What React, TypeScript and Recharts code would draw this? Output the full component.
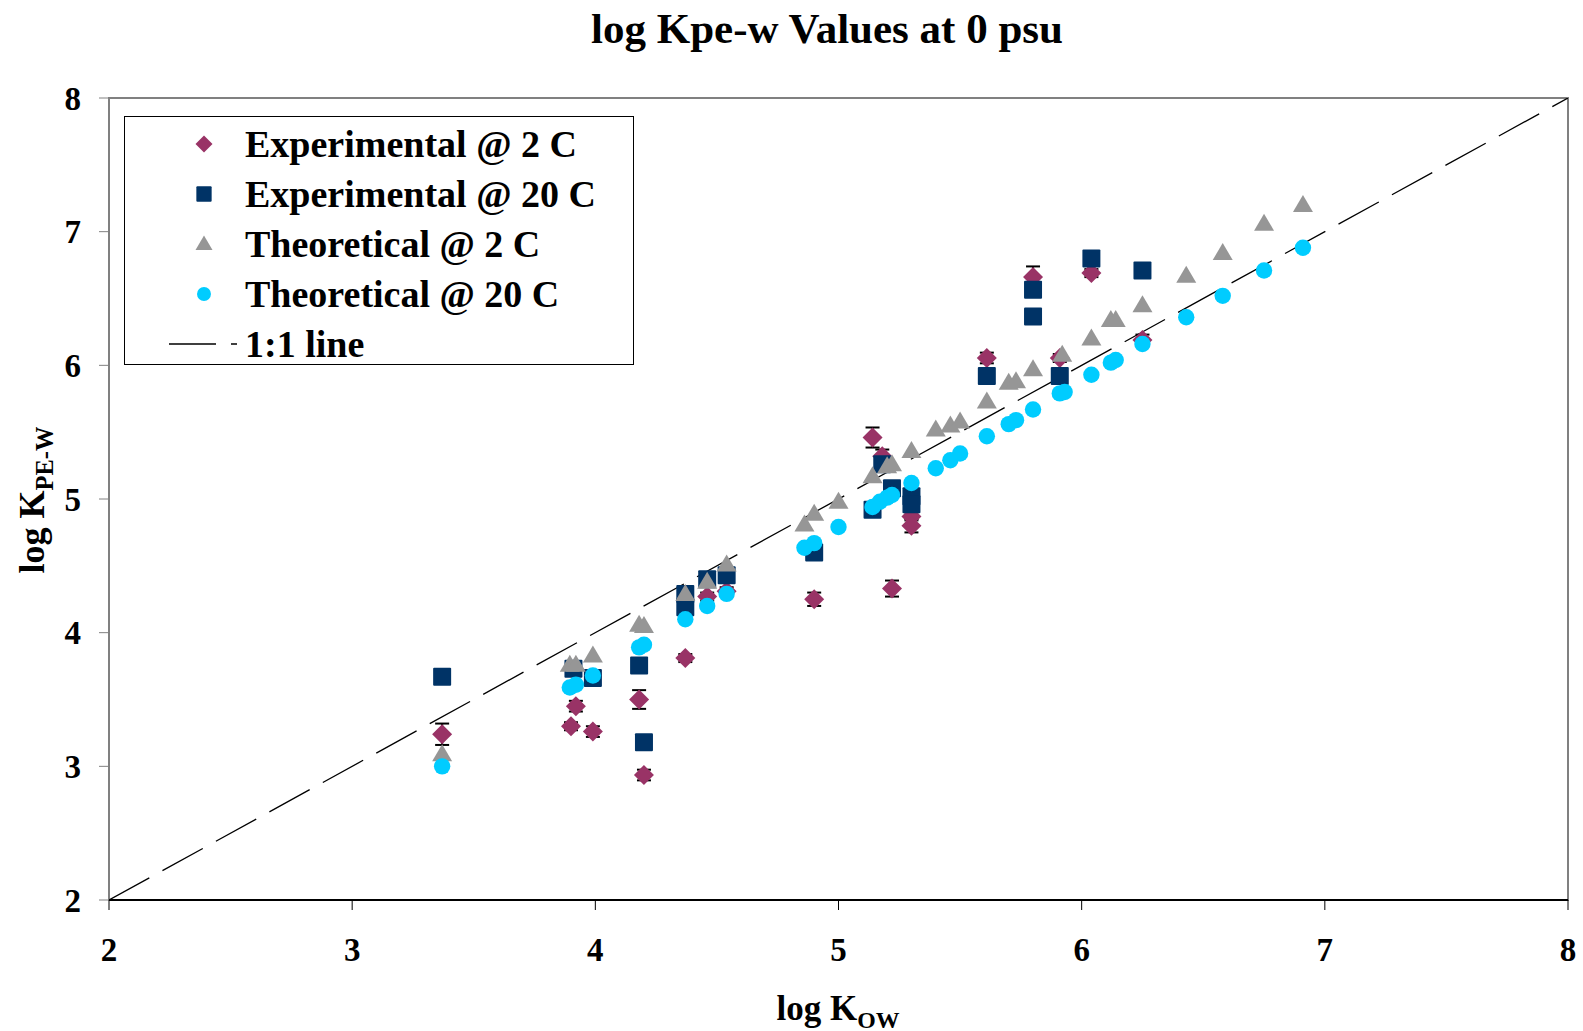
import { ScatterChart, Scatter, XAxis, YAxis, ErrorBar, ReferenceArea } from 'recharts';

const FONT = '"Liberation Serif", "Times New Roman", serif';

const xTicks = [2, 3, 4, 5, 6, 7, 8];
const yTicks = [2, 3, 4, 5, 6, 7, 8];

// log Kow, log Kpe-w, error (experimental @ 2 C)
const experimental2C = [
  { x: 3.37, y: 3.24, err: 0.08 },
  { x: 3.9, y: 3.3, err: 0.03 },
  { x: 3.92, y: 3.45, err: 0.04 },
  { x: 3.99, y: 3.26, err: 0.04 },
  { x: 4.18, y: 3.5, err: 0.07 },
  { x: 4.2, y: 2.935, err: 0.04 },
  { x: 4.37, y: 3.81, err: 0.03 },
  { x: 4.46, y: 4.27, err: 0.03 },
  { x: 4.54, y: 4.31, err: 0.03 },
  { x: 4.9, y: 4.25, err: 0.05 },
  { x: 5.14, y: 5.46, err: 0.075 },
  { x: 5.18, y: 5.32, err: 0.05 },
  { x: 5.22, y: 4.33, err: 0.06 },
  { x: 5.3, y: 4.87, err: 0.03 },
  { x: 5.3, y: 4.8, err: 0.05 },
  { x: 5.61, y: 6.055, err: 0.04 },
  { x: 5.8, y: 6.66, err: 0.08 },
  { x: 5.91, y: 6.055, err: 0.03 },
  { x: 6.04, y: 6.69, err: 0.03 },
  { x: 6.25, y: 6.19, err: 0.04 },
];

const experimental20C = [
  { x: 3.37, y: 3.67 },
  { x: 3.91, y: 3.73 },
  { x: 3.99, y: 3.66 },
  { x: 4.18, y: 3.755 },
  { x: 4.2, y: 3.18 },
  { x: 4.37, y: 4.29 },
  { x: 4.37, y: 4.19 },
  { x: 4.46, y: 4.4 },
  { x: 4.54, y: 4.43 },
  { x: 4.9, y: 4.6 },
  { x: 5.14, y: 4.92 },
  { x: 5.18, y: 5.26 },
  { x: 5.22, y: 5.08 },
  { x: 5.3, y: 5.02 },
  { x: 5.3, y: 4.96 },
  { x: 5.61, y: 5.92 },
  { x: 5.8, y: 6.565 },
  { x: 5.8, y: 6.365 },
  { x: 5.91, y: 5.92 },
  { x: 6.04, y: 6.8 },
  { x: 6.25, y: 6.71 },
];

const theoretical2C = [
  { x: 3.37, y: 3.09 },
  { x: 3.895, y: 3.76 },
  { x: 3.92, y: 3.76 },
  { x: 3.99, y: 3.83 },
  { x: 4.18, y: 4.06 },
  { x: 4.2, y: 4.05 },
  { x: 4.37, y: 4.29 },
  { x: 4.46, y: 4.38 },
  { x: 4.54, y: 4.51 },
  { x: 4.86, y: 4.81 },
  { x: 4.9, y: 4.89 },
  { x: 5.0, y: 4.98 },
  { x: 5.14, y: 5.17 },
  { x: 5.2, y: 5.245 },
  { x: 5.22, y: 5.26 },
  { x: 5.3, y: 5.36 },
  { x: 5.4, y: 5.52 },
  { x: 5.46, y: 5.55 },
  { x: 5.5, y: 5.58 },
  { x: 5.61, y: 5.73 },
  { x: 5.7, y: 5.87 },
  { x: 5.73, y: 5.88 },
  { x: 5.8, y: 5.97 },
  { x: 5.92, y: 6.08 },
  { x: 6.04, y: 6.2 },
  { x: 6.12, y: 6.34 },
  { x: 6.14, y: 6.34 },
  { x: 6.25, y: 6.45 },
  { x: 6.43, y: 6.67 },
  { x: 6.58, y: 6.84 },
  { x: 6.75, y: 7.06 },
  { x: 6.91, y: 7.2 },
];

const theoretical20C = [
  { x: 3.37, y: 3.0 },
  { x: 3.895, y: 3.59 },
  { x: 3.92, y: 3.61 },
  { x: 3.99, y: 3.68 },
  { x: 4.18, y: 3.89 },
  { x: 4.2, y: 3.91 },
  { x: 4.37, y: 4.1 },
  { x: 4.46, y: 4.2 },
  { x: 4.54, y: 4.29 },
  { x: 4.86, y: 4.635 },
  { x: 4.9, y: 4.67 },
  { x: 5.0, y: 4.79 },
  { x: 5.14, y: 4.94 },
  { x: 5.17, y: 4.98 },
  { x: 5.2, y: 5.01 },
  { x: 5.22, y: 5.03 },
  { x: 5.3, y: 5.12 },
  { x: 5.4, y: 5.23 },
  { x: 5.46, y: 5.29 },
  { x: 5.5, y: 5.34 },
  { x: 5.61, y: 5.47 },
  { x: 5.7, y: 5.56 },
  { x: 5.73, y: 5.59 },
  { x: 5.8, y: 5.67 },
  { x: 5.91, y: 5.79 },
  { x: 5.93, y: 5.8 },
  { x: 6.04, y: 5.93 },
  { x: 6.12, y: 6.02 },
  { x: 6.14, y: 6.04 },
  { x: 6.25, y: 6.16 },
  { x: 6.43, y: 6.36 },
  { x: 6.58, y: 6.52 },
  { x: 6.75, y: 6.71 },
  { x: 6.91, y: 6.88 },
];

const oneToOne = [
  { x: 2, y: 2 },
  { x: 8, y: 8 },
];

const COLORS = {
  exp2: '#993366',
  exp20: '#003366',
  th2: '#969696',
  th20: '#00CCFF',
};

type ShapeProps = { cx?: number; cy?: number; fill?: string; k?: number };

const Diamond = ({ cx = 0, cy = 0, fill, k = 1 }: ShapeProps) => {
  const r = 10 * k;
  return <path d={`M${cx},${cy - r}L${cx + r},${cy}L${cx},${cy + r}L${cx - r},${cy}Z`} fill={fill} />;
};
const Square = ({ cx = 0, cy = 0, fill, k = 1 }: ShapeProps) => {
  const h = 9 * k;
  return <rect x={cx - h} y={cy - h} width={2 * h} height={2 * h} rx={1} fill={fill} />;
};
const Triangle = ({ cx = 0, cy = 0, fill, k = 1 }: ShapeProps) => (
  <path d={`M${cx},${cy - 10 * k}L${cx + 10 * k},${cy + 7 * k}L${cx - 10 * k},${cy + 7 * k}Z`} fill={fill} />
);
const Dot = ({ cx = 0, cy = 0, fill, k = 1 }: ShapeProps) => <circle cx={cx} cy={cy} r={8.2 * k} fill={fill} />;

const legendItems = [
  { label: 'Experimental @ 2 C', Shape: Diamond, color: COLORS.exp2 },
  { label: 'Experimental @ 20 C', Shape: Square, color: COLORS.exp20 },
  { label: 'Theoretical @ 2 C', Shape: Triangle, color: COLORS.th2 },
  { label: 'Theoretical @ 20 C', Shape: Dot, color: COLORS.th20 },
];

const tickStyle = { fill: '#000', fontSize: 33, fontWeight: 700, fontFamily: FONT };

export default function App() {
  return (
    <div style={{ position: 'absolute', left: 0, top: 0, width: 1583, height: 1031, background: '#fff', fontFamily: FONT }}>
      <ScatterChart width={1583} height={1031} margin={{ top: 98, right: 15, bottom: 71, left: 29 }}>
        <XAxis
          type="number"
          dataKey="x"
          domain={[2, 8]}
          ticks={xTicks}
          interval={0}
          allowDataOverflow
          height={60}
          tick={tickStyle}
          tickSize={10}
          tickMargin={28}
          axisLine={{ stroke: '#000', strokeWidth: 2 }}
          tickLine={{ stroke: '#000' }}
        />
        <YAxis
          type="number"
          dataKey="y"
          domain={[2, 8]}
          ticks={yTicks}
          interval={0}
          allowDataOverflow
          width={80}
          tick={tickStyle}
          tickSize={10}
          tickMargin={18}
          axisLine={{ stroke: '#808080', strokeWidth: 2 }}
          tickLine={{ stroke: '#808080' }}
        />
        <ReferenceArea x1={2} x2={8} y1={2} y2={8} fill="none" fillOpacity={0} stroke="#808080" strokeWidth={2} />
        <Scatter
          data={oneToOne}
          line={{ stroke: '#000', strokeWidth: 1.3, strokeDasharray: '46 15' }}
          shape={() => <g />}
          isAnimationActive={false}
        />
        <Scatter data={experimental2C} fill={COLORS.exp2} shape={(p: any) => <Diamond {...p} />} isAnimationActive={false}>
          <ErrorBar dataKey="err" direction="y" width={7} stroke="#000" strokeWidth={2} />
        </Scatter>
        <Scatter data={experimental20C} fill={COLORS.exp20} shape={(p: any) => <Square {...p} />} isAnimationActive={false} />
        <Scatter data={theoretical2C} fill={COLORS.th2} shape={(p: any) => <Triangle {...p} />} isAnimationActive={false} />
        <Scatter data={theoretical20C} fill={COLORS.th20} shape={(p: any) => <Dot {...p} />} isAnimationActive={false} />
      </ScatterChart>

      {/* title */}
      <div
        style={{
          position: 'absolute',
          left: 827,
          top: 28,
          transform: 'translate(-50%, -50%)',
          fontSize: 43,
          fontWeight: 700,
          lineHeight: 1,
          whiteSpace: 'nowrap',
        }}
      >
        log Kpe-w Values at 0 psu
      </div>

      {/* x axis label */}
      <div
        style={{
          position: 'absolute',
          left: 838,
          top: 1008,
          transform: 'translate(-50%, -50%)',
          fontSize: 35,
          fontWeight: 700,
          lineHeight: 1,
          whiteSpace: 'nowrap',
        }}
      >
        log K<span style={{ fontSize: '0.68em', position: 'relative', top: '0.35em' }}>OW</span>
      </div>

      {/* y axis label */}
      <div
        style={{
          position: 'absolute',
          left: 32,
          top: 500,
          transform: 'translate(-50%, -50%) rotate(-90deg)',
          fontSize: 36,
          fontWeight: 700,
          lineHeight: 1,
          whiteSpace: 'nowrap',
        }}
      >
        log K<span style={{ fontSize: '0.68em', position: 'relative', top: '0.35em' }}>PE-W</span>
      </div>

      {/* legend */}
      <div
        style={{
          position: 'absolute',
          left: 124,
          top: 116,
          width: 508,
          height: 247,
          border: '1px solid #000',
          background: '#fff',
        }}
      >
        {legendItems.map((item, i) => (
          <div key={item.label} style={{ position: 'absolute', left: 0, top: 27 + i * 50 - 25, height: 50, width: 508 }}>
            <svg width={40} height={50} style={{ position: 'absolute', left: 59, top: 0 }}>
              <item.Shape cx={20} cy={25} fill={item.color} k={0.85} />
            </svg>
            <div
              style={{
                position: 'absolute',
                left: 120,
                top: 25,
                transform: 'translateY(-50%)',
                fontSize: 38,
                fontWeight: 700,
                lineHeight: 1,
                whiteSpace: 'nowrap',
              }}
            >
              {item.label}
            </div>
          </div>
        ))}
        <svg width={80} height={20} style={{ position: 'absolute', left: 44, top: 217 }}>
          <line x1={0} y1={10} x2={70} y2={10} stroke="#000" strokeWidth={1.3} strokeDasharray="47 15 6 100" />
        </svg>
        <div
          style={{
            position: 'absolute',
            left: 120,
            top: 227,
            transform: 'translateY(-50%)',
            fontSize: 38,
            fontWeight: 700,
            lineHeight: 1,
            whiteSpace: 'nowrap',
          }}
        >
          1:1 line
        </div>
      </div>
    </div>
  );
}
